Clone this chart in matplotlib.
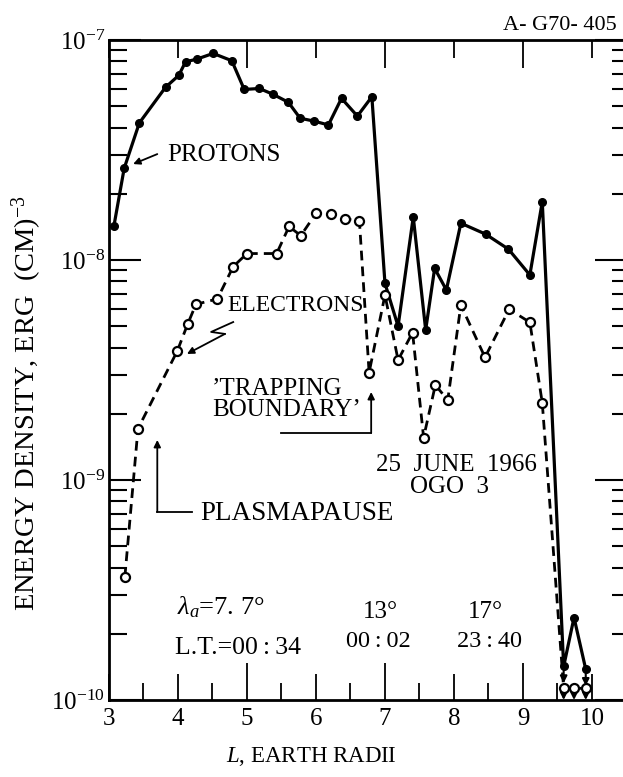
import numpy as np
import matplotlib
matplotlib.use('Agg')
import matplotlib.pyplot as plt

plt.rcParams['font.family'] = ['Liberation Serif', 'DejaVu Serif']
plt.rcParams['mathtext.fontset'] = 'custom'
plt.rcParams['mathtext.rm'] = 'Liberation Serif'
plt.rcParams['mathtext.it'] = 'Liberation Serif:italic'


# =============================================================================
# data
# =============================================================================

# protons, solid line, filled dots
p_L = [3.07, 3.22, 3.44, 3.82, 4.01, 4.11, 4.27, 4.51, 4.78, 4.96, 5.18,
       5.38, 5.60, 5.77, 5.97, 6.18, 6.37, 6.60, 6.81, 7.00, 7.19, 7.41,
       7.59, 7.72, 7.89, 8.10, 8.46, 8.79, 9.10, 9.28, 9.59, 9.74, 9.91]
p_E = [1.42e-8, 2.61e-8, 4.2e-8, 6.1e-8, 6.9e-8, 7.96e-8, 8.18e-8, 8.69e-8,
       8.05e-8, 5.96e-8, 6.02e-8, 5.66e-8, 5.21e-8, 4.41e-8, 4.28e-8, 4.11e-8,
       5.43e-8, 4.51e-8, 5.52e-8, 7.83e-9, 5.0e-9, 1.57e-8, 4.81e-9, 9.16e-9,
       7.31e-9, 1.47e-8, 1.31e-8, 1.12e-8, 8.55e-9, 1.84e-8, 1.42e-10,
       2.37e-10, 1.38e-10]
# upper limits (arrow down) on protons
p_lim_L = [9.59, 9.91]
p_lim_E = [1.42e-10, 1.38e-10]

# electrons, dashed line, open circles
e_L = [3.23, 3.42, 3.99, 4.14, 4.26, 4.57, 4.80, 5.00, 5.43, 5.61, 5.78,
       6.00, 6.22, 6.42, 6.63, 6.77, 7.00, 7.19, 7.40, 7.56, 7.73, 7.91,
       8.10, 8.45, 8.80, 9.10, 9.28, 9.59, 9.74, 9.91]
e_E = [3.63e-10, 1.71e-9, 3.86e-9, 5.11e-9, 6.29e-9, 6.65e-9, 9.33e-9,
       1.07e-8, 1.07e-8, 1.42e-8, 1.29e-8, 1.63e-8, 1.61e-8, 1.54e-8, 1.50e-8,
       3.08e-9, 6.93e-9, 3.51e-9, 4.68e-9, 1.56e-9, 2.70e-9, 2.31e-9, 6.24e-9,
       3.61e-9, 5.97e-9, 5.21e-9, 2.24e-9, 1.13e-10, 1.13e-10, 1.13e-10]
e_lim_L = [9.59, 9.74, 9.91]
e_lim_E = [1.13e-10, 1.13e-10, 1.13e-10]

x_ticks = [3, 4, 5, 6, 7, 8, 9, 10]


# =============================================================================
# figure
# =============================================================================

fig = plt.figure(figsize=(6.23, 7.77), dpi=100)
ax = fig.add_axes([109/623, 1-700/777, 1-109/623, 660/777])

ax.plot(p_L, p_E, '-', color='black', lw=2.3, marker='o', ms=5.5,
        mfc='black', mec='black', zorder=3)
ax.plot(e_L, e_E, '--', color='black', lw=2.0, dashes=(3.5, 2.2), marker='o',
        ms=6.5, mfc='white', mec='black', mew=1.6, zorder=4)

for x, y in zip(p_lim_L, p_lim_E):
    ax.annotate('', xy=(x, y*0.84), xytext=(x, y),
                arrowprops=dict(arrowstyle='-|>', color='black', lw=1.5,
                                mutation_scale=10, shrinkA=3, shrinkB=0))
for x, y in zip(e_lim_L, e_lim_E):
    ax.annotate('', xy=(x, 1.0e-10), xytext=(x, y),
                arrowprops=dict(arrowstyle='-|>', color='black', lw=1.5,
                                mutation_scale=10, shrinkA=3, shrinkB=0))

ax.set_yscale('log')
ax.set_xlim(3, 10.45)
ax.set_ylim(1e-10, 1e-7)

ax.set_xticks(x_ticks)
ax.set_xticks(np.arange(3.5, 10, 1.0), minor=True)
ax.tick_params(axis='x', which='major', direction='in', top=True,
               labelsize=18, pad=6, width=1.3)
ax.tick_params(axis='x', which='minor', direction='in', top=False,
               length=12, width=1.3, labelbottom=False)
for t, v in zip(ax.xaxis.get_major_ticks(), x_ticks):
    if v in (5, 7, 9):
        t.tick1line.set_markersize(27)
        t.tick2line.set_markersize(20)
    else:
        t.tick1line.set_markersize(19)
        t.tick2line.set_markersize(13)

ax.tick_params(axis='y', which='major', direction='in', right=True,
               labelsize=18, pad=3, width=1.5)
ax.tick_params(axis='y', which='minor', direction='in', right=True,
               width=1.5, labelleft=False)
for t in ax.yaxis.get_major_ticks():
    t.tick1line.set_markersize(23)
    t.tick2line.set_markersize(20)
for t in ax.yaxis.get_minor_ticks():
    t.tick1line.set_markersize(13)
    t.tick2line.set_markersize(8)

for s in ['left', 'bottom', 'top']:
    ax.spines[s].set_linewidth(2.0)
ax.spines['right'].set_visible(False)

# annotations
ax.text(3.84, 3.0e-8, 'PROTONS', fontsize=18, va='center')
ax.annotate('', xy=(3.35, 2.73e-8), xytext=(3.70, 3.03e-8),
            arrowprops=dict(arrowstyle='-|>', color='black', lw=1.3,
                            mutation_scale=10, shrinkA=0, shrinkB=0))

ax.text(4.71, 6.24e-9, 'ELECTRONS', fontsize=17, va='center')
zz_x = [4.80, 4.48, 4.68]
zz_y = [10**-8.282, 10**-8.327, 10**-8.336]
ax.plot(zz_x, zz_y, '-', color='black', lw=1.3)
ax.annotate('', xy=(4.13, 10**-8.427), xytext=(4.68, 10**-8.336),
            arrowprops=dict(arrowstyle='-|>', color='black', lw=1.3,
                            mutation_scale=10, shrinkA=0, shrinkB=0))

ax.text(4.49, 10**-8.636, "\u2019TRAPPING\nBOUNDARY\u2019", fontsize=18,
        va='center', ha='left', linespacing=0.95)
ax.plot([5.49, 6.80], [10**-8.786, 10**-8.786], '-', color='black', lw=1.3)
ax.annotate('', xy=(6.80, 10**-8.6), xytext=(6.80, 10**-8.786),
            arrowprops=dict(arrowstyle='-|>', color='black', lw=1.3,
                            mutation_scale=10, shrinkA=0, shrinkB=0))

ax.text(4.32, 10**-9.15, 'PLASMAPAUSE', fontsize=19.5, va='center')
ax.plot([4.20, 3.70], [10**-9.145, 10**-9.145], '-', color='black', lw=1.3)
ax.annotate('', xy=(3.70, 10**-8.818), xytext=(3.70, 10**-9.145),
            arrowprops=dict(arrowstyle='-|>', color='black', lw=1.3,
                            mutation_scale=10, shrinkA=0, shrinkB=0))

ax.text(8.03, 10**-8.932, '25  JUNE  1966', fontsize=18, ha='center', va='center')
ax.text(7.94, 10**-9.032, 'OGO  3', fontsize=18, ha='center', va='center')

ax.text(3.99, 10**-9.577, r'$\lambda_a$=7. 7°', fontsize=19, va='center')
ax.text(3.96, 10**-9.764, 'L.T.=00\u2009:\u200934', fontsize=18.5, va='center')
ax.text(6.93, 10**-9.6, '13°', fontsize=18, ha='center', va='center')
ax.text(6.90, 10**-9.736, '00\u2009:\u200902', fontsize=17.5, ha='center', va='center')
ax.text(8.45, 10**-9.6, '17°', fontsize=18, ha='center', va='center')
ax.text(8.52, 10**-9.736, '23\u2009:\u200940', fontsize=17.5, ha='center', va='center')

fig.text(617/623, 1-25/777, 'A- G70- 405', fontsize=16, ha='right', va='center')
fig.text(311/623, 1-757/777, r'$L$, EARTH RADII', fontsize=16.5,
         ha='center', va='center')
fig.text(27/623, 1-403/777, r'ENERGY DENSITY, ERG  (CM)$^{-3}$', fontsize=20.5,
         rotation=90, ha='center', va='center')

fig.savefig('out.png', dpi=100)
